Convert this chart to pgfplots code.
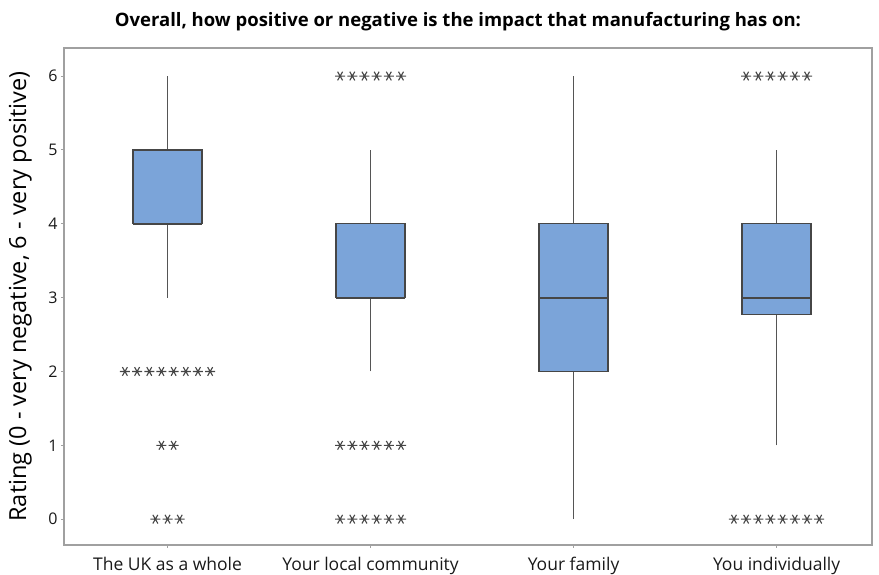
\documentclass[border=0pt]{standalone}
\usepackage{fontspec}
\setmainfont{Open Sans}
\usepackage{pgfplots}
\pgfplotsset{compat=1.18}
\usepgfplotslibrary{statistics}
\definecolor{boxfill}{RGB}{123,164,217}
\definecolor{boxedge}{RGB}{70,70,70}
\definecolor{whisk}{RGB}{85,85,85}
\definecolor{framec}{RGB}{160,160,160}
\definecolor{outc}{RGB}{70,70,70}
\pgfplotsset{
  /pgfplots/boxplot/every box/.style={line width=1.4pt, draw=boxedge, fill=boxfill},
}
\begin{document}
\begin{tikzpicture}
\begin{axis}[
  scale only axis, width=808pt, height=497pt,
  xmin=-0.51, xmax=3.47, ymin=-0.35, ymax=6.38,
  xtick={0,1,2,3},
  xticklabels={The UK as a whole, Your local community, Your family, You individually},
  ytick={0,1,2,3,4,5,6},
  tick pos=left, tick align=outside, major tick length=3pt,
  axis line style={framec, line width=1.2pt}, tick style={framec, line width=1pt},
  /pgf/number format/assume math mode=true,
  yticklabel style={font=\fontsize{16}{18}\selectfont, text=black!90},
  xticklabel style={font=\fontsize{17.5}{20}\selectfont, text=black!90, yshift=-6pt},
  ylabel={Rating (0 - very negative, 6 - very positive)},
  ylabel style={font=\fontsize{23.5}{27}\selectfont, at={(axis description cs:-0.054,0.5)}, anchor=center},
  title={Overall, how positive or negative is the impact that manufacturing has on:},
  title style={font=\fontsize{18.5}{22}\selectfont\bfseries, at={(axis description cs:0.4876,1.04)}, anchor=center},
  boxplot/draw direction=y,
  boxplot/whisker extend=0,
  boxplot/box extend=0.34,
  unbounded coords=jump,
]
% whiskers (drawn first, under boxes)
\addplot[whisk, line width=1.8pt, forget plot] coordinates {
  (0,3) (0,6) (0,nan)
  (1,2) (1,5) (1,nan)
  (2,0) (2,6) (2,nan)
  (3,1) (3,5)
};
\addplot+[boxplot prepared={draw position=0, lower whisker=4, lower quartile=4, median=4, upper quartile=5, upper whisker=5},
  fill=boxfill, draw=boxedge, line width=1.4pt, solid, mark=none] coordinates {};
\addplot+[boxplot prepared={draw position=1, lower whisker=3, lower quartile=3, median=3, upper quartile=4, upper whisker=4},
  fill=boxfill, draw=boxedge, line width=1.4pt, solid, mark=none] coordinates {};
\addplot+[boxplot prepared={draw position=2, lower whisker=2, lower quartile=2, median=3, upper quartile=4, upper whisker=4},
  fill=boxfill, draw=boxedge, line width=1.4pt, solid, mark=none] coordinates {};
\addplot+[boxplot prepared={draw position=3, lower whisker=2.77, lower quartile=2.77, median=3, upper quartile=4, upper whisker=4},
  fill=boxfill, draw=boxedge, line width=1.4pt, solid, mark=none] coordinates {};
% medians
\addplot[boxedge, line width=1.8pt, forget plot] coordinates {
  (-0.17,4) (0.17,4) (0,nan)
  (0.83,3) (1.17,3) (1,nan)
  (1.83,3) (2.17,3) (2,nan)
  (2.83,3) (3.17,3)
};
% outliers
\addplot[only marks, mark=asterisk, mark size=5pt, color=outc, mark options={line width=1.1pt, rotate=90}] coordinates {
  (-0.21,2) (-0.15,2) (-0.09,2) (-0.03,2) (0.03,2) (0.09,2) (0.15,2) (0.21,2)
  (-0.03,1) (0.03,1)
  (-0.06,0) (0,0) (0.06,0)
  (0.85,6) (0.91,6) (0.97,6) (1.03,6) (1.09,6) (1.15,6)
  (0.85,1) (0.91,1) (0.97,1) (1.03,1) (1.09,1) (1.15,1)
  (0.85,0) (0.91,0) (0.97,0) (1.03,0) (1.09,0) (1.15,0)
  (2.85,6) (2.91,6) (2.97,6) (3.03,6) (3.09,6) (3.15,6)
  (2.79,0) (2.85,0) (2.91,0) (2.97,0) (3.03,0) (3.09,0) (3.15,0) (3.21,0)
};
\coordinate (ll) at (rel axis cs:0,0);
\coordinate (ur) at (rel axis cs:1,1);
\end{axis}
\pgfresetboundingbox
\path ([shift={(-64pt,-30pt)}]ll) rectangle ([shift={(7pt,48pt)}]ur);
\end{tikzpicture}
\end{document}
